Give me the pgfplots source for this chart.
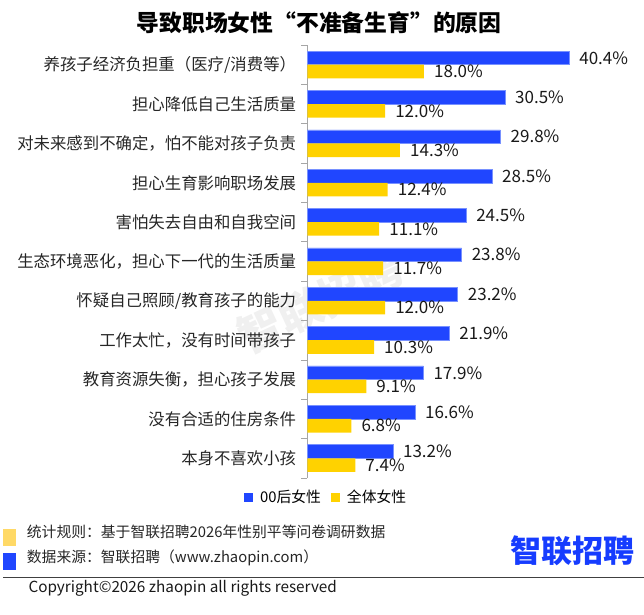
\documentclass[border=0pt]{standalone}
\usepackage{fontspec}
\setmainfont{Noto Sans CJK SC}
\usepackage{pgfplots}
\pgfplotsset{compat=1.18}
\definecolor{zpblue}{RGB}{32,70,255}
\definecolor{zpblueedge}{RGB}{120,145,255}
\definecolor{zpyellow}{RGB}{255,210,0}
\definecolor{noteyellow}{RGB}{255,217,102}
\definecolor{logoblue}{RGB}{22,60,255}
\newcommand{\fs}[1]{\fontsize{#1bp}{#1bp}\selectfont}
\begin{document}
\begin{tikzpicture}
\path[use as bounding box] (0,0) rectangle (644bp,615bp);
% watermark
\node[rotate=25, text=black!6, font=\fs{44}\bfseries] at (320bp,313bp) {智联招聘};
% title
\node[font=\fs{22.8}\bfseries, inner sep=0pt] at (319bp,592.5bp) {导致职场女性“不准备生育”的原因};
\begin{axis}[
  at={(307.3bp,137bp)}, anchor=south west,
  scale only axis, width=336.96bp, height=433bp,
  xmin=0, xmax=52, ymin=-0.5, ymax=10.5,
  axis x line=none, axis y line*=left,
  xtick=\empty,
  ytick={0,...,10},
  yticklabels={本身不喜欢小孩,没有合适的住房条件,教育资源失衡，担心孩子发展,工作太忙，没有时间带孩子,怀疑自己照顾/教育孩子的能力,生态环境恶化，担心下一代的生活质量,害怕失去自由和自我空间,担心生育影响职场发展,对未来感到不确定，怕不能对孩子负责,担心降低自己生活质量,养孩子经济负担重（医疗/消费等）},
  minor ytick={-0.5,0.5,...,10.5},
  major tick length=0pt, minor tick length=6bp, tick align=outside,
  minor tick style={black!35, line width=0.8bp},
  axis line style={black!35, line width=0.8bp},
  yticklabel style={font=\fs{16.4}, text=black!85, inner sep=0pt, anchor=east, xshift=-11bp},
  xbar, bar width=13.6bp,
  /pgf/number format/assume math mode=true,
  nodes near coords={\pgfmathprintnumber[fixed,fixed zerofill,precision=1]{\pgfplotspointmeta}\%},
  every node near coord/.append style={font=\fs{17}, text=black!90, anchor=west, inner sep=0pt, xshift=10bp},
  legend style={at={(0.056,-0.0439)}, anchor=center, draw=none, fill=none, font=\fs{14.8}, legend columns=-1, inner sep=0pt,
    /tikz/every odd column/.append style={column sep=5bp},
    /tikz/every even column/.append style={column sep=8bp}},
  legend image code/.code={\fill[#1,draw=none] (0bp,-4.5bp) rectangle (9bp,4.5bp);},
  clip=false,
]
\addplot[fill=zpblue, draw=zpblueedge, line width=0.5bp, bar shift=6.8bp] coordinates {
(13.2,0) (16.6,1) (17.9,2) (21.9,3) (23.2,4) (23.8,5) (24.5,6) (28.5,7) (29.8,8) (30.5,9) (40.4,10)};
\addplot[fill=zpyellow, draw=none, bar shift=-6.8bp] coordinates {
(7.4,0) (6.8,1) (9.1,2) (10.3,3) (12.0,4) (11.7,5) (11.1,6) (12.4,7) (14.3,8) (12.0,9) (18.0,10)};
\legend{00后女性,全体女性}
\end{axis}
% notes
\fill[noteyellow] (2.7bp,69.3bp) rectangle (16bp,85.7bp);
\fill[zpblue] (2.7bp,45bp) rectangle (16bp,61.7bp);
\node[anchor=west, inner sep=0pt, font=\fs{14.8}, text=black!85] at (26.7bp,83.3bp) {统计规则：基于智联招聘2026年性别平等问卷调研数据};
\node[anchor=west, inner sep=0pt, font=\fs{14.8}, text=black!85] at (26.7bp,57.3bp) {数据来源：智联招聘（www.zhaopin.com）};
\node[inner sep=0pt, font=\fs{31}\bfseries, text=logoblue] at (572.8bp,64bp) {智联招聘};
\draw[black!75, line width=1bp] (3bp,37.7bp) -- (644bp,37.7bp);
\node[anchor=west, inner sep=0pt, font=\fs{15.3}, text=black!90] at (28.3bp,26.7bp) {Copyright©2026 zhaopin all rights reserved};
\end{tikzpicture}
\end{document}
